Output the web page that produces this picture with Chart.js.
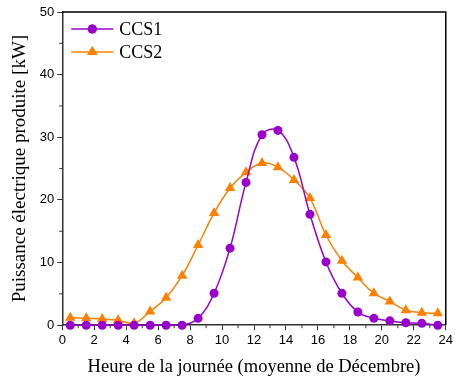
<!DOCTYPE html>
<html>
<head>
<meta charset="utf-8">
<script src="https://cdn.jsdelivr.net/npm/chart.js@4"></script>
<style>
  html, body { margin: 0; padding: 0; background: #fff; }
  #wrap { width: 455px; height: 378px; }
</style>
</head>
<body>
<div id="wrap"><canvas id="chart"></canvas></div>
<script>
const hours = [0.5, 1.5, 2.5, 3.5, 4.5, 5.5, 6.5, 7.5, 8.5, 9.5, 10.5, 11.5,
               12.5, 13.5, 14.5, 15.5, 16.5, 17.5, 18.5, 19.5, 20.5, 21.5, 22.5, 23.5];
const ccs1 = [0, 0, 0, 0, 0, 0, 0, 0, 1.1, 5.1, 12.3, 22.8,
              30.4, 31.1, 26.8, 17.7, 10.1, 5.1, 2.1, 1.1, 0.7, 0.4, 0.3, 0];
const ccs2 = [1.2, 1.1, 1.0, 0.8, 0.3, 2.2, 4.4, 7.9, 12.8, 17.9, 21.9, 24.4,
              25.9, 25.2, 23.2, 20.3, 14.4, 10.3, 7.6, 5.1, 3.8, 2.4, 2.0, 1.9];
const seriesNames = ["CCS1", "CCS2"];
const xTicks = [0, 2, 4, 6, 8, 10, 12, 14, 16, 18, 20, 22, 24];
const yTicks = [0, 10, 20, 30, 40, 50];

const purple = "#9900CC";
const orange = "#FF8000";
const serif = "'Liberation Serif', 'Times New Roman', serif";
const sans = "'Liberation Sans', Arial, sans-serif";

function toPoints(ys) {
    return hours.map((h, i) => ({ x: h, y: ys[i] }));
}

// frame, minor ticks and the in-plot legend
const extras = {
    id: "extras",
    afterDraw(chart) {
        const ctx = chart.ctx;
        const a = chart.chartArea;
        const xs = chart.scales.x;
        const ys = chart.scales.y;
        ctx.save();
        ctx.strokeStyle = "#000";
        ctx.lineWidth = 1.5;
        ctx.beginPath();
        ctx.moveTo(a.left, a.top);
        ctx.lineTo(a.right, a.top);
        ctx.lineTo(a.right, a.bottom);
        ctx.stroke();

        ctx.lineWidth = 1;
        ctx.strokeStyle = "#333";
        ctx.beginPath();
        for (let v = 1; v < 24; v += 2) {
            const px = xs.getPixelForValue(v);
            ctx.moveTo(px, a.bottom);
            ctx.lineTo(px, a.bottom + 3);
        }
        for (let v = 5; v < 50; v += 10) {
            const py = ys.getPixelForValue(v);
            ctx.moveTo(a.left, py);
            ctx.lineTo(a.left - 3, py);
        }
        ctx.stroke();

        // legend
        const items = [
            { label: seriesNames[0], color: purple, style: "circle", r: 4.5 },
            { label: seriesNames[1], color: orange, style: "triangle", r: 6 }
        ];
        items.forEach((it, i) => {
            const y = a.top + 17 + i * 23;
            const x0 = a.left + 9;
            ctx.strokeStyle = it.color;
            ctx.lineWidth = 1.5;
            ctx.beginPath();
            ctx.moveTo(x0, y);
            ctx.lineTo(x0 + 42, y);
            ctx.stroke();
            ctx.fillStyle = it.color;
            Chart.helpers.drawPoint(ctx, { pointStyle: it.style, radius: it.r, borderWidth: 0, rotation: 0 }, x0 + 21, y);
            ctx.fill();
            ctx.fillStyle = "#000";
            ctx.font = "18px " + serif;
            ctx.textBaseline = "middle";
            ctx.textAlign = "left";
            ctx.fillText(it.label, x0 + 48, y + 1);
        });
        ctx.restore();
    }
};

new Chart(document.getElementById("chart"), {
    type: "line",
    data: {
        datasets: [{
            label: seriesNames[0],
            data: toPoints(ccs1),
            borderColor: purple,
            backgroundColor: purple,
            borderWidth: 1.5,
            pointStyle: "circle",
            pointRadius: 4.5,
            pointBorderWidth: 0,
            tension: 0.4,
            clip: false
        }, {
            label: seriesNames[1],
            data: toPoints(ccs2),
            borderColor: orange,
            backgroundColor: orange,
            borderWidth: 1.5,
            pointStyle: "triangle",
            pointRadius: 6,
            pointBorderWidth: 0,
            tension: 0.4,
            clip: false
        }]
    },
    options: {
        responsive: true,
        maintainAspectRatio: false,
        animation: false,
        layout: { padding: { left: 9, right: 5, top: 12, bottom: 0 } },
        plugins: {
            legend: { display: false },
            tooltip: { enabled: false }
        },
        scales: {
            x: {
                type: "linear",
                min: 0,
                max: 24,
                afterBuildTicks: axis => { axis.ticks = xTicks.map(v => ({ value: v })); },
                ticks: { font: { family: sans, size: 13 }, color: "#000", padding: 2, maxRotation: 0 },
                grid: { drawOnChartArea: false, tickLength: 5, color: "#333" },
                border: { color: "#333", width: 1.5 },
                title: {
                    display: true,
                    text: "Heure de la journée (moyenne de Décembre)",
                    font: { family: serif, size: 18.5 },
                    color: "#000",
                    padding: { top: 6, bottom: 0 }
                }
            },
            y: {
                min: 0,
                max: 50,
                afterBuildTicks: axis => { axis.ticks = yTicks.map(v => ({ value: v })); },
                ticks: { font: { family: sans, size: 13 }, color: "#000", padding: 3 },
                grid: { drawOnChartArea: false, tickLength: 5, color: "#333" },
                border: { color: "#333", width: 1.5 },
                title: {
                    display: true,
                    text: "Puissance électrique produite [kW]",
                    font: { family: serif, size: 19 },
                    color: "#000",
                    padding: { top: 0, bottom: 5 }
                }
            }
        }
    },
    plugins: [extras]
});
</script>
</body>
</html>
